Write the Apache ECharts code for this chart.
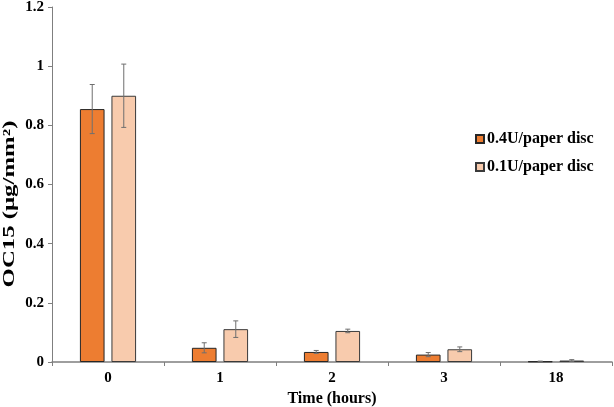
<!DOCTYPE html>
<html>
<head>
<meta charset="utf-8">
<script src="https://cdn.jsdelivr.net/npm/echarts@6/dist/echarts.min.js"></script>
<style>
html, body { margin: 0; padding: 0; background: #fff; }
#main { width: 614px; height: 407px; }
</style>
</head>
<body>
<div id="main"></div>
<script>
var categories = ['0', '1', '2', '3', '18'];
var seriesNames = ['0.4U/paper disc', '0.1U/paper disc'];
var highValues = [0.855, 0.048, 0.034, 0.025, 0.002];
var highErrors = [0.083, 0.017, 0.005, 0.007, 0.001];
var lowValues = [0.900, 0.111, 0.105, 0.043, 0.005];
var lowErrors = [0.107, 0.028, 0.006, 0.008, 0.003];

var BAR_W = 0.22, BAR_GAP = 0.28;
var serif = '"Liberation Serif", "Times New Roman", serif';

// error bar drawn at the offset of the matching bar
function errorBars(values, errors, side) {
    var data = [];
    for (var i = 0; i < values.length; i++) {
        data.push([i, values[i] - errors[i], values[i] + errors[i]]);
    }
    return {
        type: 'custom',
        z: 5,
        data: data,
        encode: { x: 0, y: [1, 2] },
        renderItem: function (params, api) {
            var band = api.size([1, 0])[0];
            var off = side * band * (BAR_W + BAR_W * BAR_GAP) / 2;
            var lo = api.coord([api.value(0), api.value(1)]);
            var hi = api.coord([api.value(0), api.value(2)]);
            var x = lo[0] + off;
            var cap = 2.5;
            var st = { stroke: '#6f6f6f', lineWidth: 1 };
            return {
                type: 'group',
                children: [
                    { type: 'line', shape: { x1: x, y1: lo[1], x2: x, y2: hi[1] }, style: st },
                    { type: 'line', shape: { x1: x - cap, y1: hi[1], x2: x + cap, y2: hi[1] }, style: st },
                    { type: 'line', shape: { x1: x - cap, y1: lo[1], x2: x + cap, y2: lo[1] }, style: st }
                ]
            };
        }
    };
}

var myChart = echarts.init(document.getElementById('main'));
var option = {
    animation: false,
    grid: { left: 52, right: 2, top: 7, bottom: 45, outerBoundsMode: 'none', containLabel: false },
    legend: {
        orient: 'vertical',
        left: 470,
        top: 126,
        icon: 'rect',
        itemWidth: 8,
        itemHeight: 8,
        itemGap: 12,
        data: seriesNames,
        textStyle: { fontFamily: serif, fontWeight: 'bold', fontSize: 16, color: '#000', padding: [0, 0, 0, -2] }
    },
    // y axis title, stretched along its length like the reference
    graphic: [{
        type: 'text',
        x: 10,
        y: 204,
        rotation: Math.PI / 2,
        scaleX: 1.55,
        style: {
            text: 'OC15 (μg/mm²)',
            fontFamily: serif,
            fontWeight: 'bold',
            fontSize: 16,
            fill: '#000',
            textAlign: 'center',
            textVerticalAlign: 'middle'
        }
    }],
    xAxis: {
        type: 'category',
        data: categories,
        name: 'Time (hours)',
        nameLocation: 'middle',
        nameGap: 28,
        nameTextStyle: { fontFamily: serif, fontWeight: 'bold', fontSize: 16, color: '#000' },
        axisLine: { lineStyle: { color: '#7f7f7f', width: 1.5 } },
        axisTick: { show: true, length: 4, lineStyle: { color: '#7f7f7f' } },
        axisLabel: { fontFamily: serif, fontWeight: 'bold', fontSize: 15, color: '#000', margin: 9 }
    },
    yAxis: {
        type: 'value',
        min: 0,
        max: 1.2,
        interval: 0.2,
        axisLine: { show: true, lineStyle: { color: '#7f7f7f', width: 1 } },
        axisTick: { show: true, length: 4, lineStyle: { color: '#7f7f7f' } },
        splitLine: { show: false },
        axisLabel: { fontFamily: serif, fontWeight: 'bold', fontSize: 15, color: '#000', margin: 8 }
    },
    series: [
        {
            name: seriesNames[0],
            type: 'bar',
            data: highValues,
            barWidth: (BAR_W * 100) + '%',
            barGap: (BAR_GAP * 100) + '%',
            itemStyle: { color: '#ED7D31', borderColor: '#262626', borderWidth: 1 }
        },
        {
            name: seriesNames[1],
            type: 'bar',
            data: lowValues,
            barWidth: (BAR_W * 100) + '%',
            itemStyle: { color: '#F8CBAD', borderColor: '#3a3a3a', borderWidth: 1 }
        },
        errorBars(highValues, highErrors, -1),
        errorBars(lowValues, lowErrors, 1)
    ]
};
myChart.setOption(option);
</script>
</body>
</html>
